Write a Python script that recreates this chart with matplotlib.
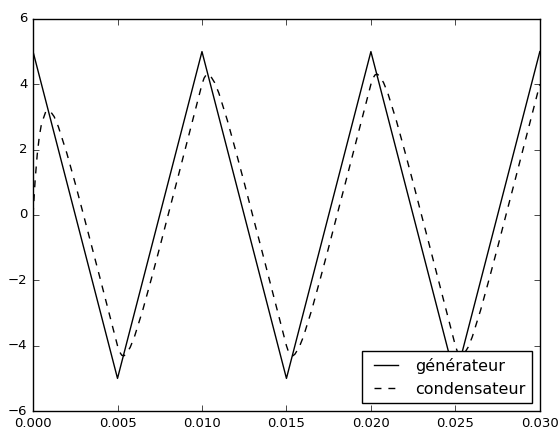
import matplotlib
matplotlib.use('Agg')
import matplotlib.pyplot as plt

# tension du generateur (signal triangle)
t_gen = [0.0, 0.005, 0.010, 0.015, 0.020, 0.025, 0.030]
u_gen = [5, -5, 5, -5, 5, -5, 5]

# tension aux bornes du condensateur
t_cond = [0.0, 0.000125, 0.00025, 0.000375, 0.0005, 0.00075, 0.001, 0.00125, 0.0015,
          0.002, 0.0025, 0.003, 0.0035, 0.004, 0.0045,
          0.005, 0.005125, 0.00525, 0.005375, 0.0055, 0.00575, 0.006, 0.0065,
          0.007, 0.0075, 0.008, 0.0085, 0.009, 0.0095,
          0.010, 0.010125, 0.01025, 0.010375, 0.0105, 0.01075, 0.011, 0.0115,
          0.012, 0.0125, 0.013, 0.0135, 0.014, 0.0145,
          0.015, 0.015125, 0.01525, 0.015375, 0.0155, 0.01575, 0.016, 0.0165,
          0.017, 0.0175, 0.018, 0.0185, 0.019, 0.0195,
          0.020, 0.020125, 0.02025, 0.020375, 0.0205, 0.02075, 0.021, 0.0215,
          0.022, 0.0225, 0.023, 0.0235, 0.024, 0.0245,
          0.025, 0.025125, 0.02525, 0.025375, 0.0255, 0.02575, 0.026, 0.0265,
          0.027, 0.0275, 0.028, 0.0285, 0.029, 0.0295,
          0.030]
u_cond = [0.0, 1.08, 1.86, 2.42, 2.79, 3.16, 3.19, 3.01, 2.70,
          1.89, 0.96, -0.02, -1.01, -2.00, -3.00,
          -4.00, -4.19, -4.29, -4.31, -4.26, -4.05, -3.73, -2.90,
          -1.96, -0.99, 0.01, 1.00, 2.00, 3.00,
          4.00, 4.19, 4.29, 4.31, 4.26, 4.05, 3.73, 2.90,
          1.96, 0.99, -0.01, -1.00, -2.00, -3.00,
          -4.00, -4.19, -4.29, -4.31, -4.26, -4.05, -3.73, -2.90,
          -1.96, -0.99, 0.01, 1.00, 2.00, 3.00,
          4.00, 4.19, 4.29, 4.31, 4.26, 4.05, 3.73, 2.90,
          1.96, 0.99, -0.01, -1.00, -2.00, -3.00,
          -4.00, -4.19, -4.29, -4.31, -4.26, -4.05, -3.73, -2.90,
          -1.96, -0.99, 0.01, 1.00, 2.00, 3.00,
          4.00]

plt.style.use('classic')
plt.rcParams['font.size'] = 9.5
plt.rcParams['figure.facecolor'] = 'white'

fig = plt.figure(figsize=(5.6, 4.3), dpi=100)
ax = fig.add_axes([0.059, 0.044, 0.905, 0.912])
ax.plot(t_gen, u_gen, 'k-', lw=1.0, label='générateur')
ax.plot(t_cond, u_cond, 'k--', lw=1.0, dashes=(5, 5), label='condensateur')
ax.set_xlim(0, 0.03)
ax.set_ylim(-6, 6)
ax.set_xticks([0.0, 0.005, 0.010, 0.015, 0.020, 0.025, 0.030])
ax.set_xticklabels(['0.000', '0.005', '0.010', '0.015', '0.020', '0.025', '0.030'])
ax.legend(loc='lower right', fontsize=11.5, handlelength=2.1)
fig.savefig('out.png', dpi=100, facecolor='white')
